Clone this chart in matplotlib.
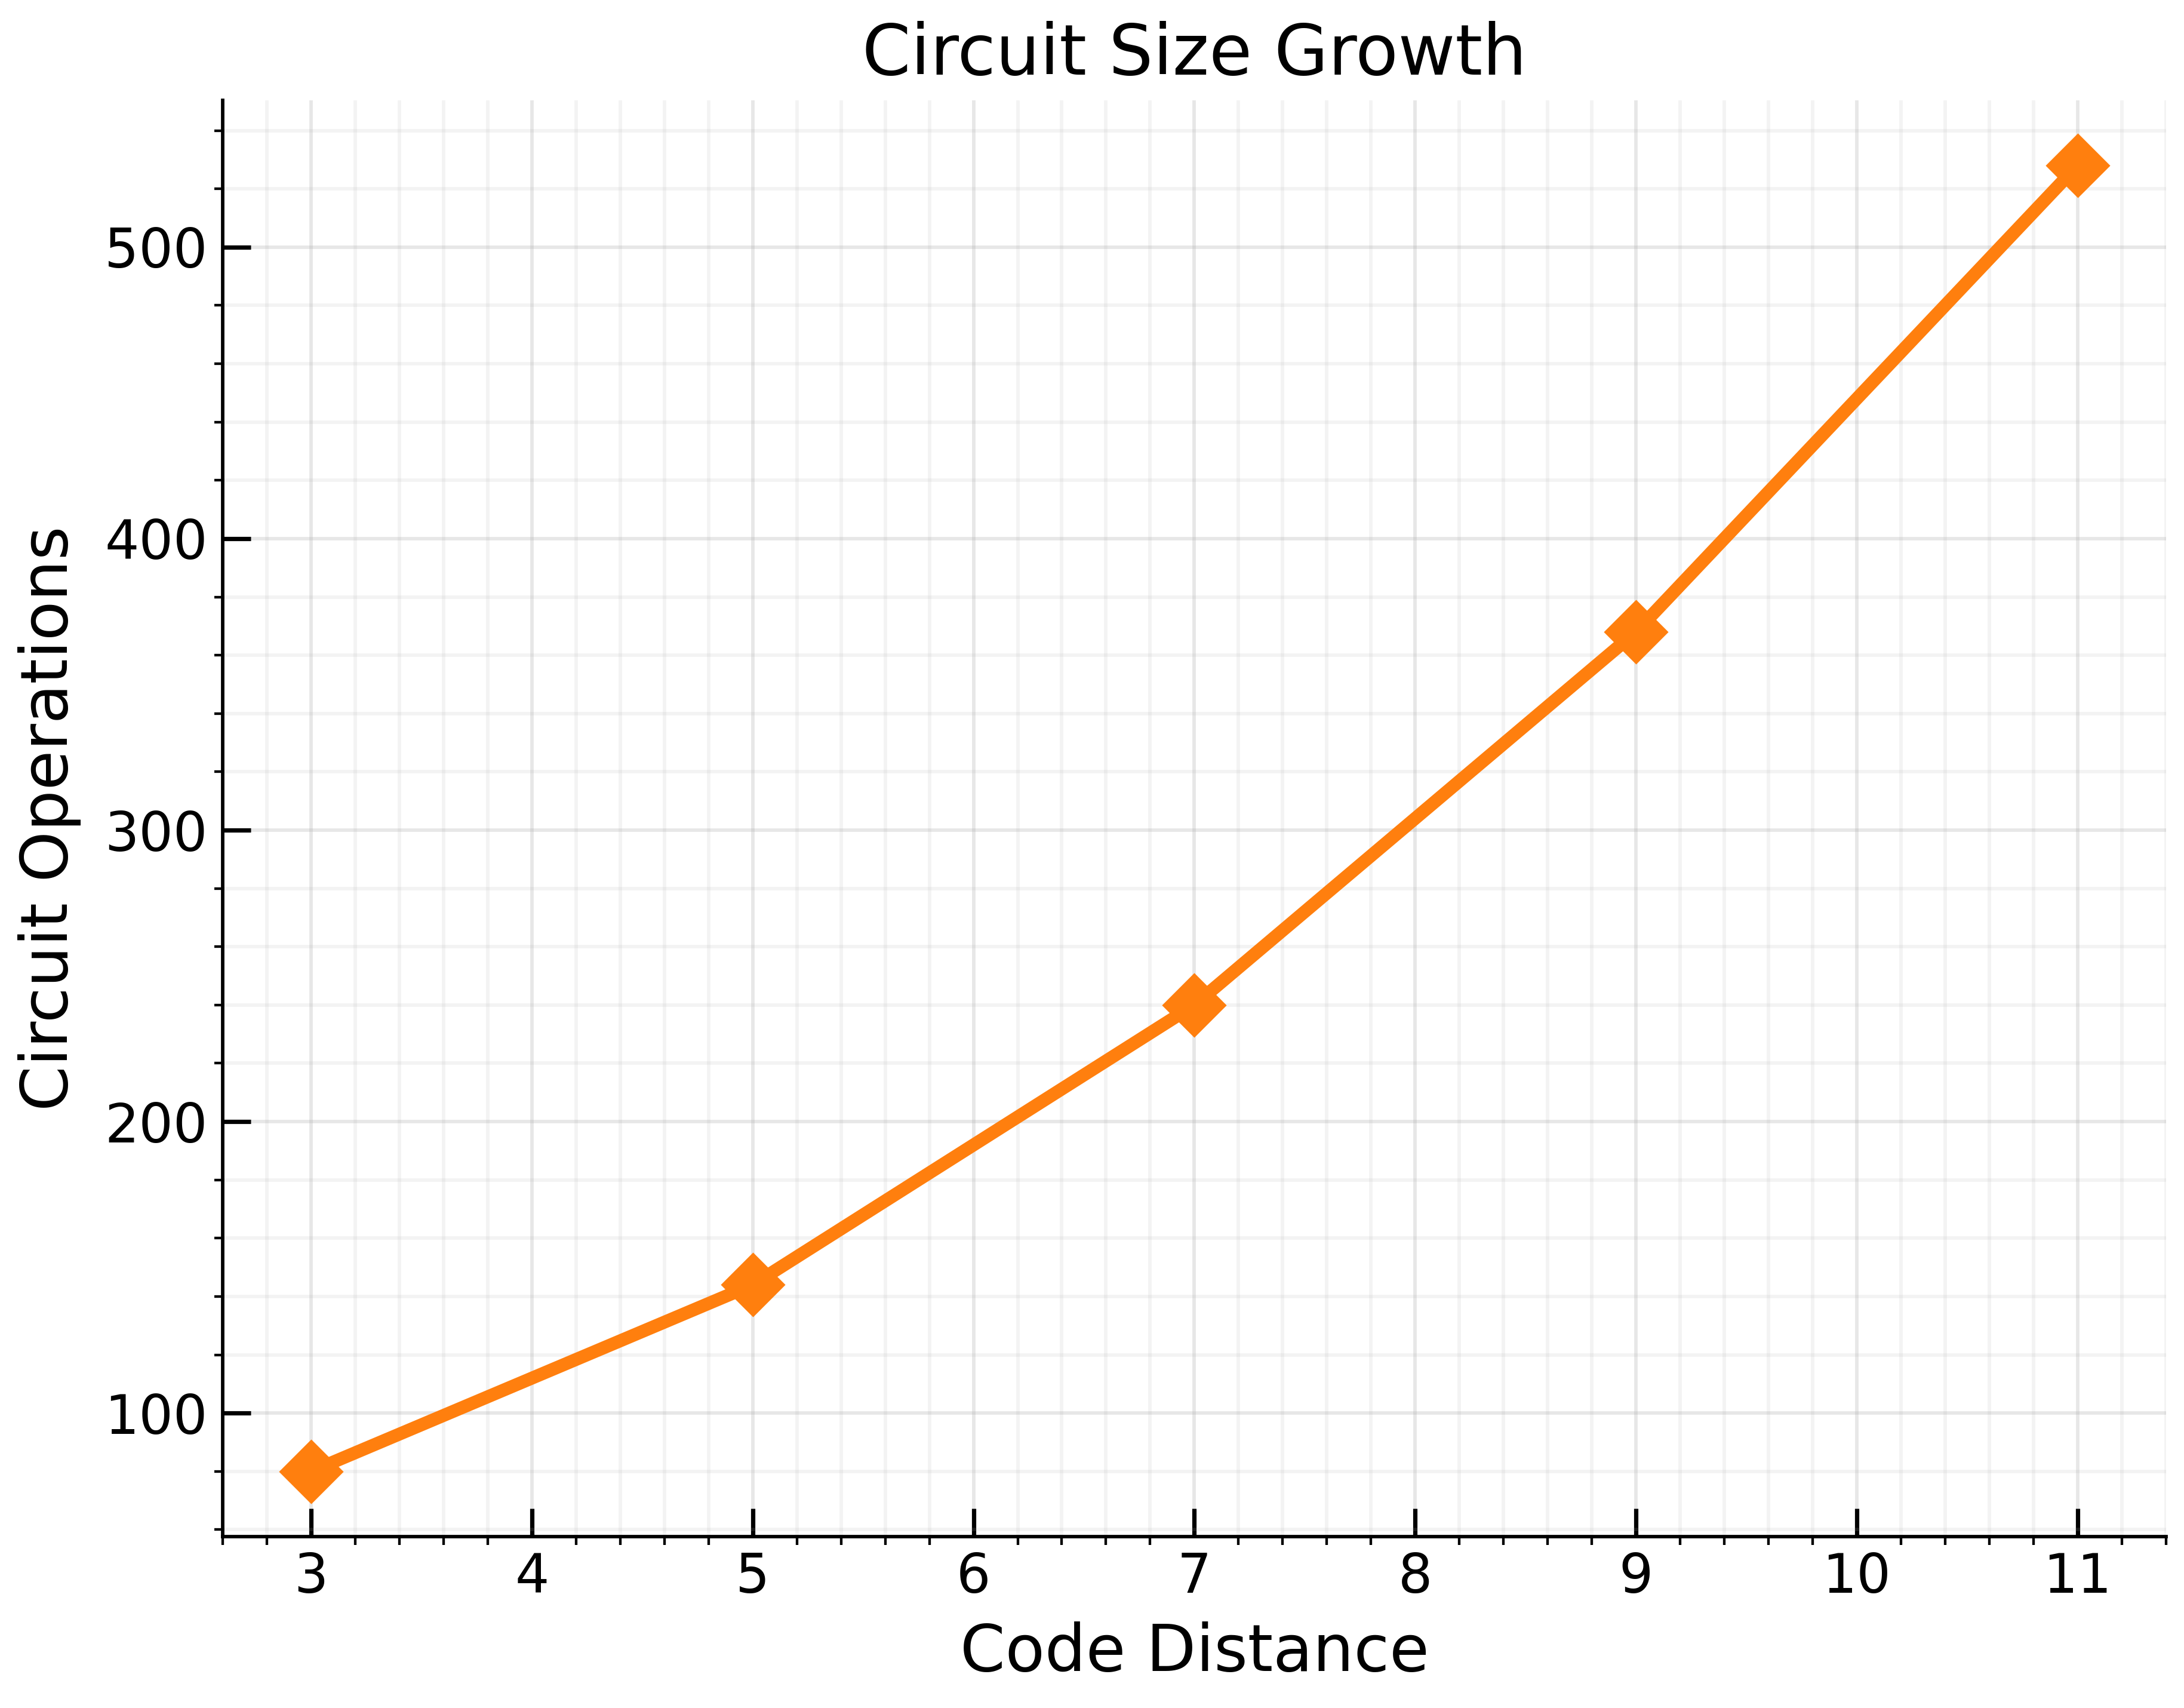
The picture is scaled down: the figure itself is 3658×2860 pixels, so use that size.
import matplotlib
matplotlib.use("Agg")
import matplotlib.pyplot as plt
from matplotlib.ticker import AutoMinorLocator

# data
code_distance = [3, 5, 7, 9, 11]
circuit_ops = [80, 144, 240, 368, 528]

fig, ax = plt.subplots(figsize=(3658 / 520, 2860 / 520))
fig.subplots_adjust(left=0.102, right=0.9917, bottom=0.1003, top=0.9413)

ax.plot(code_distance, circuit_ops, color='#ff7f0e', marker='D', markersize=9.5, linewidth=3)

ax.set_title('Circuit Size Growth', fontsize=16.2)
ax.set_xlabel('Code Distance', fontsize=15)
ax.set_ylabel('Circuit Operations', fontsize=15, labelpad=5.5)

# ticks: major inside, minor outside
ax.xaxis.set_minor_locator(AutoMinorLocator(5))
ax.yaxis.set_minor_locator(AutoMinorLocator(5))
ax.tick_params(which='major', direction='in', length=6.5, width=1, labelsize=12.5)
ax.tick_params(which='minor', direction='out', length=2, width=0.6)

ax.grid(True, which='major', alpha=0.3)
ax.grid(True, which='minor', alpha=0.15)

ax.spines['top'].set_visible(False)
ax.spines['right'].set_visible(False)

fig.savefig('out.png', dpi=520)
